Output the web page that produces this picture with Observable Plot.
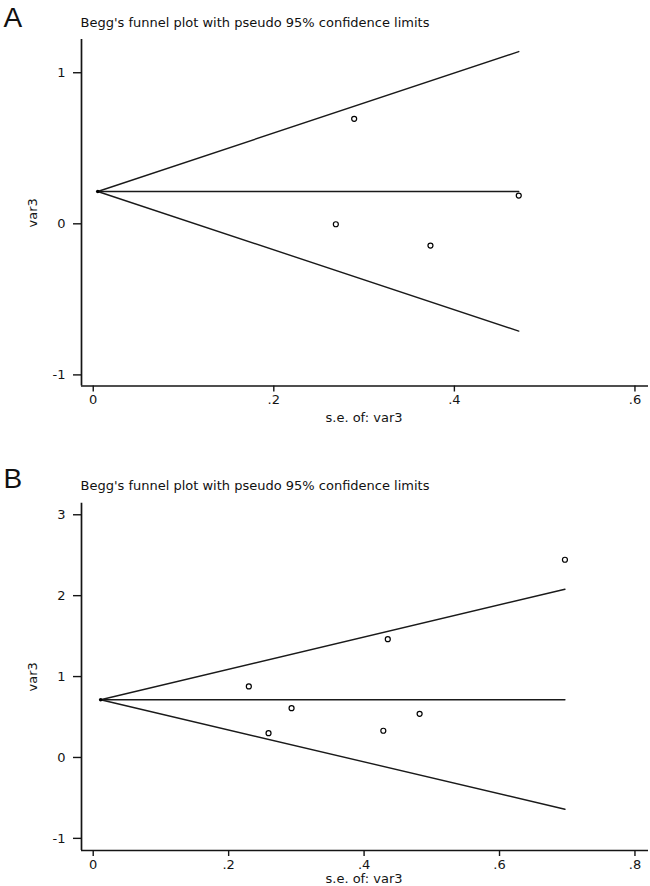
<!DOCTYPE html>
<html>
<head>
<meta charset="utf-8">
<script src="https://cdn.jsdelivr.net/npm/d3@7"></script>
<script src="https://cdn.jsdelivr.net/npm/@observablehq/plot@0.6"></script>
<style>
  html, body { margin: 0; padding: 0; background: #fff; }
  #wrap { position: relative; width: 650px; height: 886px; overflow: hidden; background: #fff; }
  #wrap svg { position: absolute; left: 0; }
</style>
</head>
<body>
<div id="wrap"></div>
<script>
// ---------- shared text ----------
const titleText = "Begg's funnel plot with pseudo 95% confidence limits";
const yLabelText = "var3";
const xLabelText = "s.e. of: var3";

// ---------- Panel A data ----------
const panelLabelA = "A";
const seA  = [0.2687, 0.289, 0.3735, 0.4713];
const effA = [-0.003, 0.695, -0.144, 0.187];
const funnelSeA = [0.005, 0.4713];
const upperA  = [0.214, 1.14];
const centerA = [0.214, 0.214];
const lowerA  = [0.214, -0.71];
const xTicksA = [0, 0.2, 0.4, 0.6];
const xTickLabelsA = ["0", ".2", ".4", ".6"];
const yTicksA = [-1, 0, 1];
const yTickLabelsA = ["-1", "0", "1"];
const xDomainA = [-0.013, 0.615];
const yDomainA = [-1.0735, 1.22];

// ---------- Panel B data ----------
const panelLabelB = "B";
const seB  = [0.2298, 0.2589, 0.2929, 0.4284, 0.435, 0.482, 0.6966];
const effB = [0.878, 0.300, 0.609, 0.330, 1.462, 0.540, 2.444];
const funnelSeB = [0.011, 0.6966];
const upperB  = [0.713, 2.08];
const centerB = [0.713, 0.713];
const lowerB  = [0.713, -0.64];
const xTicksB = [0, 0.2, 0.4, 0.6, 0.8];
const xTickLabelsB = ["0", ".2", ".4", ".6", ".8"];
const yTicksB = [-1, 0, 1, 2, 3];
const yTickLabelsB = ["-1", "0", "1", "2", "3"];
const xDomainB = [-0.0173, 0.820];
const yDomainB = [-1.15, 3.143];

function panel(cfg) {
  const pts = cfg.se.map((s, i) => ({se: s, v: cfg.eff[i]}));
  const mk = arr => cfg.funnelSe.map((s, i) => ({se: s, v: arr[i]}));
  const lineStyle = {x: "se", y: "v", stroke: "#1a1a1a", strokeWidth: 1.4};
  return Plot.plot({
    width: 650,
    height: cfg.height,
    marginLeft: 81,
    marginRight: 2,
    marginTop: cfg.marginTop,
    marginBottom: cfg.marginBottom,
    style: {fontFamily: "DejaVu Sans", fontSize: "13px", color: "#141414", background: "transparent", overflow: "visible"},
    x: {domain: cfg.xDomain, axis: null},
    y: {domain: cfg.yDomain, axis: null},
    marks: [
      Plot.axisY(cfg.yTicks, {tickSize: 8, tickPadding: 8, strokeWidth: 1.4,
        tickFormat: d => cfg.yTickLabels[cfg.yTicks.indexOf(d)], label: null}),
      Plot.axisX(cfg.xTicks, {tickSize: 6, tickPadding: 3, strokeWidth: 1.4,
        tickFormat: d => cfg.xTickLabels[cfg.xTicks.indexOf(d)], label: null}),
      Plot.ruleX([cfg.xDomain[0]], {stroke: "#141414", strokeWidth: 1.7}),
      Plot.ruleY([cfg.yDomain[0]], {stroke: "#141414", strokeWidth: 1.7}),
      Plot.line(mk(cfg.upper), lineStyle),
      Plot.line(mk(cfg.center), lineStyle),
      Plot.line(mk(cfg.lower), lineStyle),
      Plot.dot([{se: cfg.funnelSe[0], v: cfg.center[0]}], {x: "se", y: "v", r: 1.8, fill: "#000"}),
      Plot.dot(pts, {x: "se", y: "v", r: 2.5, stroke: "#000", strokeWidth: 1.2, fill: "#fff"}),
      // title
      Plot.text([titleText], {frameAnchor: "top-left", dx: -1, dy: cfg.titleDy, textAnchor: "start",
        lineAnchor: "bottom", fontSize: 13, fill: "#111"}),
      // panel letter
      Plot.text([cfg.panelLabel], {frameAnchor: "top-left", dx: -78, dy: cfg.letterDy, textAnchor: "start",
        lineAnchor: "bottom", fontSize: 28, fontFamily: "Liberation Sans", fill: "#111"}),
      // y label
      Plot.text([yLabelText], {frameAnchor: "left", dx: -45, rotate: -90, textAnchor: "middle",
        lineAnchor: "bottom", fill: "#141414"}),
      // x label
      Plot.text([xLabelText], {frameAnchor: "bottom", dx: -1, dy: cfg.xLabelDy, textAnchor: "middle",
        lineAnchor: "bottom", fill: "#141414"})
    ]
  });
}

const wrap = document.getElementById("wrap");

const svgA = panel({
  height: 460, marginTop: 39, marginBottom: 74.5,
  se: seA, eff: effA, funnelSe: funnelSeA, upper: upperA, center: centerA, lower: lowerA,
  xTicks: xTicksA, xTickLabels: xTickLabelsA, yTicks: yTicksA, yTickLabels: yTickLabelsA,
  xDomain: xDomainA, yDomain: yDomainA, panelLabel: panelLabelA,
  titleDy: -12.5, letterDy: -13, xLabelDy: 35.5
});
svgA.style.top = "0px";
wrap.appendChild(svgA);

const svgB = panel({
  height: 426, marginTop: 42.7, marginBottom: 36,
  se: seB, eff: effB, funnelSe: funnelSeB, upper: upperB, center: centerB, lower: lowerB,
  xTicks: xTicksB, xTickLabels: xTickLabelsB, yTicks: yTicksB, yTickLabels: yTickLabelsB,
  xDomain: xDomainB, yDomain: yDomainB, panelLabel: panelLabelB,
  titleDy: -13.5, letterDy: -15.5, xLabelDy: 32.5
});
svgB.style.top = "460px";
wrap.appendChild(svgB);
</script>
</body>
</html>
